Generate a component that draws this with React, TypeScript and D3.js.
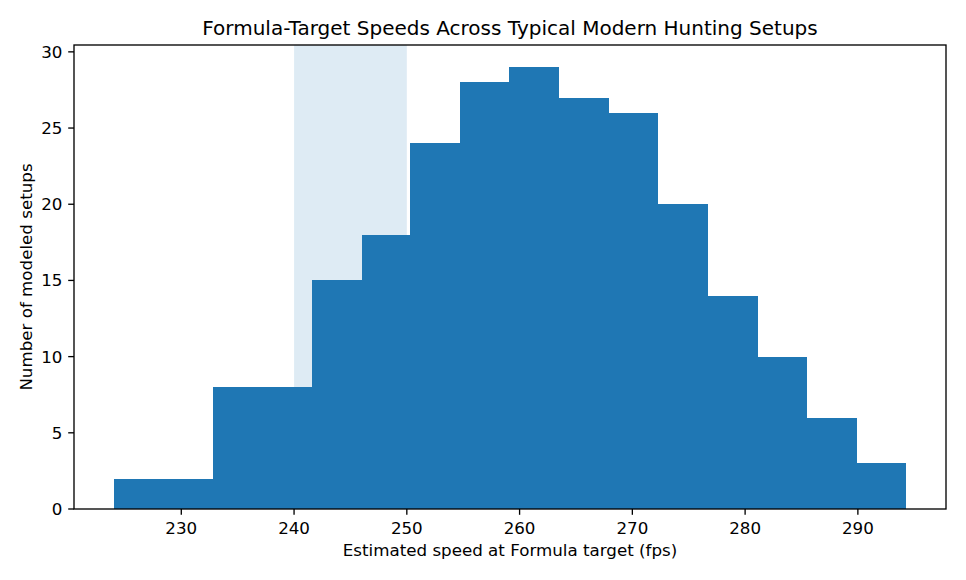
import * as d3 from "d3";

// histogram: 16 bins, edges in fps
const binEdges = [
  224.0, 228.4, 232.8, 237.2, 241.6, 246.0, 250.3, 254.7, 259.1, 263.5, 267.9,
  272.3, 276.7, 281.1, 285.5, 289.9, 294.3,
];
const binCounts = [2, 2, 8, 8, 15, 18, 24, 28, 29, 27, 26, 20, 14, 10, 6, 3];
const highlightRange = [240, 250];
const xTicks = [230, 240, 250, 260, 270, 280, 290];
const yTicks = [0, 5, 10, 15, 20, 25, 30];

const title = "Formula-Target Speeds Across Typical Modern Hunting Setups";
const xLabel = "Estimated speed at Formula target (fps)";
const yLabel = "Number of modeled setups";

export default function App() {
  const width = 966;
  const height = 580;
  const margin = { top: 45, right: 20, bottom: 71, left: 74 };
  const innerW = width - margin.left - margin.right;
  const innerH = height - margin.top - margin.bottom;

  const lo = binEdges[0];
  const hi = binEdges[binEdges.length - 1];
  const pad = (hi - lo) * 0.05;
  const x = d3
    .scaleLinear()
    .domain([lo - pad, hi + pad])
    .range([margin.left, margin.left + innerW]);

  const yMax = (d3.max(binCounts) ?? 0) * 1.05;
  const y = d3
    .scaleLinear()
    .domain([0, yMax])
    .range([margin.top + innerH, margin.top]);

  const font = "DejaVu Sans";
  const bottom = margin.top + innerH;
  const tickLen = 5.8;
  const lw = 1.33;
  const fs = 16.7;

  return (
    <svg
      width={width}
      height={height}
      style={{ position: "absolute", left: 0, top: 0, background: "white" }}
      fontFamily={font}
    >
      <rect width={width} height={height} fill="white" />
      <rect
        x={x(highlightRange[0])}
        y={margin.top}
        width={x(highlightRange[1]) - x(highlightRange[0])}
        height={innerH}
        fill="#1f77b4"
        fillOpacity={0.15}
      />
      <g shapeRendering="crispEdges">
        {binCounts.map((c, i) => (
          <rect
            key={i}
            x={x(binEdges[i])}
            y={y(c)}
            width={x(binEdges[i + 1]) - x(binEdges[i])}
            height={bottom - y(c)}
            fill="#1f77b4"
          />
        ))}
      </g>

      {/* spines */}
      <rect
        x={margin.left}
        y={margin.top}
        width={innerW}
        height={innerH}
        fill="none"
        stroke="black"
        strokeWidth={lw}
      />

      {xTicks.map((t) => (
        <g key={t}>
          <line x1={x(t)} x2={x(t)} y1={bottom} y2={bottom + tickLen} stroke="black" strokeWidth={lw} />
          <text x={x(t)} y={bottom + 25} fontSize={fs} textAnchor="middle" fill="black">
            {t}
          </text>
        </g>
      ))}
      {yTicks.map((t) => (
        <g key={t}>
          <line
            x1={margin.left - tickLen}
            x2={margin.left}
            y1={y(t)}
            y2={y(t)}
            stroke="black"
            strokeWidth={lw}
          />
          <text
            x={margin.left - 11.6}
            y={y(t)}
            dy="0.36em"
            fontSize={fs}
            textAnchor="end"
            fill="black"
          >
            {t}
          </text>
        </g>
      ))}

      <text
        x={margin.left + innerW / 2}
        y={margin.top - 10}
        fontSize={20}
        textAnchor="middle"
        fill="black"
      >
        {title}
      </text>
      <text
        x={margin.left + innerW / 2}
        y={556}
        fontSize={fs}
        textAnchor="middle"
        fill="black"
      >
        {xLabel}
      </text>
      <text
        transform={`translate(32, ${margin.top + innerH / 2}) rotate(-90)`}
        fontSize={fs}
        textAnchor="middle"
        fill="black"
      >
        {yLabel}
      </text>
    </svg>
  );
}
